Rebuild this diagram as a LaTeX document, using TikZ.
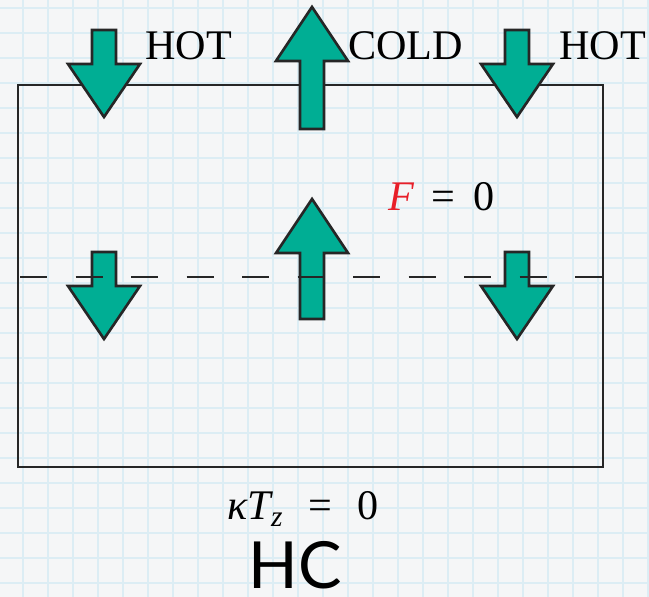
\documentclass[tikz,border=0pt]{standalone}
\usepackage{fontspec}
\setmainfont{Liberation Serif}
\newfontfamily\hcfont{Lato}
\definecolor{paper}{RGB}{245,246,247}
\definecolor{gridblue}{RGB}{220,237,244}
\definecolor{fluxgreen}{RGB}{0,174,148}
\definecolor{fred}{RGB}{232,30,40}
\tikzset{
    wall/.style={draw=black!85, line width=1.5pt},
    midline/.style={draw=black!85, line width=1.5pt, dash pattern=on 15.4pt off 16.2pt},
    flux/.style={draw=black!85, fill=fluxgreen, line width=1.5pt, line join=miter},
    lbl/.style={font=\fontsize{24}{28}\selectfont, inner sep=0pt, anchor=base west},
    gridline/.style={draw=gridblue, line width=0.6pt},
}
% block arrows: #1 = centre x, #2 = y of the flat end
\newcommand{\downflux}[2]{%
  \draw[flux] (#1-12,#2) -- (#1+12,#2) -- (#1+12,#2+34) -- (#1+36,#2+34)
      -- (#1,#2+87) -- (#1-36,#2+34) -- (#1-12,#2+34) -- cycle;}
\newcommand{\upflux}[3]{% #3 = total length
  \draw[flux] (#1-12,#2) -- (#1+12,#2) -- (#1+12,#2-#3+54) -- (#1+36,#2-#3+54)
      -- (#1,#2-#3) -- (#1-36,#2-#3+54) -- (#1-12,#2-#3+54) -- cycle;}

\begin{document}
\begin{tikzpicture}[x=0.02cm, y=-0.02cm]

    \fill[paper] (0,0) rectangle (649,597);
    \useasboundingbox (0,0) rectangle (649,597);
    \foreach \gx in {23,48,...,648} \draw[gridline] (\gx,0) -- (\gx,597);
    \foreach \gy in {8,33,...,596} \draw[gridline] (0,\gy) -- (649,\gy);

    % the layer
    \draw[wall] (18,85) rectangle (603,467);

    % heat flux arrows
    \downflux{104}{30}
    \upflux{312}{129}{122}
    \downflux{517}{30}
    \downflux{104}{252}
    \upflux{312}{319}{120}
    \downflux{517}{252}

    \draw[midline] (20,277) -- (603,277);

    \node[lbl] (hotl) at (145,60) {HOT};
    \node[lbl] (cold) at (348,60) {COLD};
    \node[lbl] (hotr) at (559,60) {HOT};
    \node[lbl] (flux0) at (388,211) {{\color{fred}\itshape F}\hspace{0.42em}=\hspace{0.42em}0};
    \node[lbl] (bottom) at (227,520) {{\itshape κT\textsubscript{z}}\hspace{0.6em}=\hspace{0.6em}0};
    \node[inner sep=0pt, anchor=base west, font=\hcfont\fontsize{37}{40}\selectfont] (hc) at (248,588) {HC};

\end{tikzpicture}
\end{document}
